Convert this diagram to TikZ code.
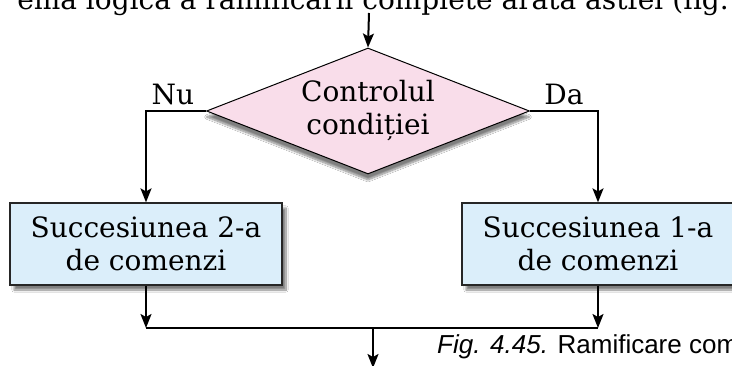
\documentclass[tikz,border=0pt]{standalone}
\usepackage{fontspec}
\setmainfont{DejaVu Serif}
\newfontfamily\capfont{Liberation Sans}
\usetikzlibrary{shapes.geometric,arrows.meta,shadows.blur}
\definecolor{diapink}{HTML}{F9DDEA}
\definecolor{boxblue}{HTML}{DBEEFA}
\begin{document}
\begin{tikzpicture}[x=1pt,y=-1pt,
  txt/.style={font=\fontsize{28}{33}\selectfont, align=center},
  conn/.style={line width=2pt},
  arr/.style={conn,-{Stealth[length=14pt,width=11pt,inset=3pt]}},
  decision/.style={diamond, draw=black, line width=1pt, fill=diapink, aspect=2.56,
    minimum width=323pt, minimum height=126pt, inner sep=0pt, txt,
    blur shadow={shadow xshift=0pt, shadow yshift=-6pt, shadow blur steps=10, shadow opacity=50}},
  stepbox/.style={rectangle, draw=black!85, line width=1.2pt, fill=boxblue,
    minimum width=272pt, minimum height=82pt, inner sep=0pt, txt,
    blur shadow={shadow xshift=4pt, shadow yshift=-5pt, shadow blur steps=10, shadow opacity=50}},
  lbl/.style={font=\fontsize{28}{33}\selectfont, inner sep=0pt}
]
\useasboundingbox (0,0) rectangle (732,366);
\clip (0,0) rectangle (732,366);
\fill[white] (0,0) rectangle (732,366);

\node[font=\fontsize{28}{33}\selectfont, anchor=base east, inner sep=0pt] (head) at (729,10)
  {ema logică a ramificării complete arată astfel (fig.};

\node[decision] (cond) at (368,111) {Controlul\\condiției};
\node[stepbox] (s2) at (146,244) {Succesiunea 2-a\\de comenzi};
\node[stepbox] (s1) at (598,244) {Succesiunea 1-a\\de comenzi};

\coordinate (start) at (369,13);
\coordinate (jm) at (373,328);
\coordinate (end) at (373,368);

\draw[arr] (start) -- (cond.north);
\draw[arr] (cond.west) -| (s2.north);
\draw[arr] (cond.east) -| (s1.north);
\draw[arr] (s2.south) -- (s2.south |- jm);
\draw[arr] (s1.south) -- (s1.south |- jm);
\draw[conn] (s2.south |- jm) -- (s1.south |- jm);
\draw[arr] (jm) -- (end);

\node[lbl, anchor=base] (nu) at (173,105) {Nu};
\node[lbl, anchor=base] (da) at (564,105) {Da};

\node[font=\capfont\fontsize{26}{30}\selectfont, anchor=base west, inner sep=0pt] (cap) at (437,354)
  {\itshape Fig. 4.45.\upshape{} Ramificare completă};
\end{tikzpicture}
\end{document}
